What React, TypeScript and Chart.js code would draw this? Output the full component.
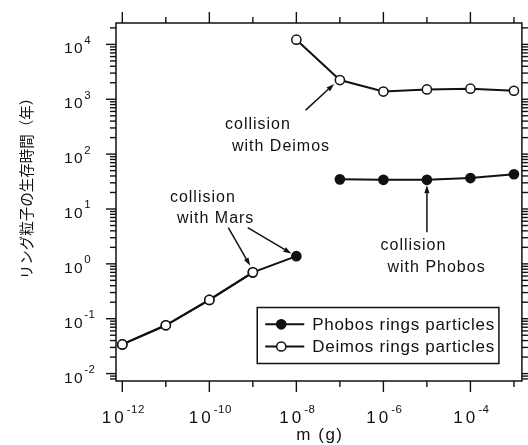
import React, { useEffect, useRef } from "react";
import { Chart, registerables } from "chart.js";

Chart.register(...registerables);

// ---- data (mass in g, lifetime in years) ----
const phobosMarsMass = [1e-12, 1e-11, 1e-10, 1e-9, 1e-8];
const phobosMarsLife = [0.034, 0.076, 0.22, 0.7, 1.38];
const phobosMass = [1e-7, 1e-6, 1e-5, 1e-4, 1e-3];
const phobosLife = [34.7, 34, 34, 36.6, 43];

const deimosMarsMass = [1e-12, 1e-11, 1e-10, 1e-9];
const deimosMarsLife = [0.034, 0.076, 0.22, 0.7];
const deimosMass = [1e-8, 1e-7, 1e-6, 1e-5, 1e-4, 1e-3];
const deimosLife = [12200, 2240, 1380, 1510, 1560, 1430];

const xTickExps = [-12, -11, -10, -9, -8, -7, -6, -5, -4, -3];
const xLabelExps = [-12, -10, -8, -6, -4];
const yLabelExps = [-2, -1, 0, 1, 2, 3, 4];

const xTitle = "m (g)";
const yTitle = "リング粒子の生存時間（年）";
const legendLabels = ["Phobos rings particles", "Deimos rings particles"];

// annotations in data coordinates (log10 mass, log10 lifetime)
const notes = [
  { lines: ["collision", "with Deimos"], x: -9.64, y: 2.456, x2: -9.48, y2: 2.054 },
  { lines: ["collision", "with Mars"], x: -10.906, y: 1.133, x2: -10.745, y2: 0.747 },
  { lines: ["collision", "with Phobos"], x: -6.067, y: 0.249, x2: -5.906, y2: -0.147 },
];
const arrows = [
  { from: [-7.787, 2.802], to: [-7.13, 3.28] },
  { from: [-9.564, 0.659], to: [-9.06, -0.034] },
  { from: [-9.117, 0.659], to: [-8.115, 0.188] },
  { from: [-5.0, 0.577], to: [-5.0, 1.434] },
];

const INK = "#111";
const SANS = '"Liberation Sans", Arial, sans-serif';

const toXY = (xs: number[], ys: number[]) => xs.map((x, i) => ({ x, y: ys[i] }));

function drawPow(ctx: CanvasRenderingContext2D, x: number, yBase: number, exp: number,
  align: "center" | "left", baseFont: string, supFont: string, ls: number, supLs: number, raise: number) {
  ctx.save();
  ctx.textAlign = "left";
  ctx.textBaseline = "alphabetic";
  ctx.font = baseFont;
  (ctx as any).letterSpacing = ls + "px";
  const w1 = ctx.measureText("10").width;
  ctx.font = supFont;
  (ctx as any).letterSpacing = supLs + "px";
  const es = String(exp);
  const w2 = ctx.measureText(es).width;
  const start = align === "center" ? x - (w1 + w2) / 2 : x;
  ctx.font = baseFont;
  (ctx as any).letterSpacing = ls + "px";
  ctx.fillText("10", start, yBase);
  ctx.font = supFont;
  (ctx as any).letterSpacing = supLs + "px";
  ctx.fillText(es, start + w1, yBase - raise);
  ctx.restore();
}

function line(ctx: CanvasRenderingContext2D, x1: number, y1: number, x2: number, y2: number) {
  ctx.beginPath();
  ctx.moveTo(x1, y1);
  ctx.lineTo(x2, y2);
  ctx.stroke();
}

const decorPlugin = {
  id: "decor",
  beforeDraw(chart: any) {
    const ctx = chart.ctx;
    ctx.save();
    ctx.fillStyle = "#fff";
    ctx.fillRect(0, 0, chart.width, chart.height);
    ctx.restore();
  },
  beforeDatasetsDraw(chart: any) {
    const ctx: CanvasRenderingContext2D = chart.ctx;
    const xs = chart.scales.x;
    const ys = chart.scales.y;
    const { left, right, top, bottom } = chart.chartArea;
    ctx.save();
    ctx.strokeStyle = INK;
    ctx.lineWidth = 1.5;
    ctx.strokeRect(left, top, right - left, bottom - top);
    ctx.lineWidth = 1.4;
    // x ticks top & bottom
    for (const e of xTickExps) {
      const px = xs.getPixelForValue(Math.pow(10, e));
      const len = e % 2 === 0 ? 11 : 6;
      line(ctx, px, top, px, top - len);
      line(ctx, px, bottom, px, bottom + len);
    }
    // y ticks left & right
    const lo = Math.floor(Math.log10(ys.min));
    const hi = Math.ceil(Math.log10(ys.max));
    for (let e = lo; e <= hi; e++) {
      for (let m = 1; m <= 9; m++) {
        const v = m * Math.pow(10, e);
        if (v < ys.min || v > ys.max) continue;
        const py = ys.getPixelForValue(v);
        const len = m === 1 ? 10 : 6;
        line(ctx, left - len, py, left, py);
        line(ctx, right, py, right + len, py);
      }
    }
    // tick labels
    ctx.fillStyle = INK;
    for (const e of xLabelExps) {
      const px = xs.getPixelForValue(Math.pow(10, e));
      drawPow(ctx, px + 1, bottom + 42, e, "center", "17px " + SANS, "11.5px " + SANS, 3, 0.5, 10);
    }
    for (const e of yLabelExps) {
      const py = ys.getPixelForValue(Math.pow(10, e));
      drawPow(ctx, left - 52, py + 9, e, "left", "15.5px " + SANS, "11.5px " + SANS, 1.5, 0.5, 9.5);
    }
    // titles
    ctx.font = "17px " + SANS;
    (ctx as any).letterSpacing = "1.5px";
    ctx.textAlign = "center";
    ctx.textBaseline = "middle";
    ctx.fillText(xTitle, (left + right) / 2 + 1, bottom + 54);
    (ctx as any).letterSpacing = "0px";
    ctx.save();
    ctx.translate(26, 185);
    ctx.rotate(-Math.PI / 2);
    ctx.font = '14.5px "Noto Sans CJK JP", sans-serif';
    ctx.fillText(yTitle, 0, 0);
    ctx.restore();
    ctx.restore();
  },
  afterDatasetsDraw(chart: any) {
    const ctx: CanvasRenderingContext2D = chart.ctx;
    const xs = chart.scales.x;
    const ys = chart.scales.y;
    const X = (lx: number) => xs.getPixelForValue(Math.pow(10, lx));
    const Y = (ly: number) => ys.getPixelForValue(Math.pow(10, ly));
    const { right, bottom } = chart.chartArea;
    ctx.save();
    ctx.fillStyle = INK;
    ctx.strokeStyle = INK;
    // annotation texts
    ctx.font = "16px " + SANS;
    (ctx as any).letterSpacing = "1px";
    ctx.textAlign = "left";
    ctx.textBaseline = "alphabetic";
    for (const n of notes) {
      ctx.fillText(n.lines[0], X(n.x), Y(n.y));
      ctx.fillText(n.lines[1], X(n.x2), Y(n.y2));
    }
    // arrows
    ctx.lineWidth = 1.5;
    for (const a of arrows) {
      const x1 = X(a.from[0]), y1 = Y(a.from[1]);
      const x2 = X(a.to[0]), y2 = Y(a.to[1]);
      const ang = Math.atan2(y2 - y1, x2 - x1);
      const hl = 8, hw = 2.6;
      const bx = x2 - hl * Math.cos(ang), by = y2 - hl * Math.sin(ang);
      line(ctx, x1, y1, bx, by);
      ctx.beginPath();
      ctx.moveTo(x2, y2);
      ctx.lineTo(bx + hw * Math.sin(ang), by - hw * Math.cos(ang));
      ctx.lineTo(bx - hw * Math.sin(ang), by + hw * Math.cos(ang));
      ctx.closePath();
      ctx.fill();
    }
    // legend
    ctx.font = "17px " + SANS;
    (ctx as any).letterSpacing = "0.7px";
    const tw = Math.max(...legendLabels.map((l) => ctx.measureText(l).width));
    const bw = 55 + tw + 4;
    const bh = 56;
    const bx0 = right - 23 - bw;
    const by0 = bottom - 17.5 - bh;
    ctx.lineWidth = 1.5;
    ctx.fillStyle = "#fff";
    ctx.fillRect(bx0, by0, bw, bh);
    ctx.strokeRect(bx0, by0, bw, bh);
    const rows = [by0 + 16.8, by0 + 39];
    legendLabels.forEach((lab, i) => {
      const cy = rows[i];
      ctx.lineWidth = 2;
      line(ctx, bx0 + 8, cy, bx0 + 47, cy);
      ctx.beginPath();
      ctx.arc(bx0 + 24, cy, 4.6, 0, Math.PI * 2);
      ctx.fillStyle = i === 0 ? INK : "#fff";
      ctx.fill();
      ctx.lineWidth = 1.5;
      ctx.stroke();
      ctx.fillStyle = INK;
      ctx.textBaseline = "middle";
      ctx.fillText(lab, bx0 + 55, cy + 1);
    });
    ctx.restore();
  },
};

export default function App() {
  const ref = useRef<HTMLCanvasElement | null>(null);
  useEffect(() => {
    document.body.style.margin = "0";
    const canvas = ref.current;
    if (!canvas) return;
    const common = {
      borderColor: INK,
      borderWidth: 2,
      pointRadius: 4.6,
      pointBorderWidth: 1.5,
      pointBorderColor: INK,
      tension: 0,
      clip: false as any,
    };
    const chart = new Chart(canvas, {
      type: "line",
      data: {
        datasets: [
          { ...common, label: legendLabels[0], data: toXY(phobosMarsMass, phobosMarsLife), pointBackgroundColor: INK, order: 2 },
          { ...common, label: legendLabels[0], data: toXY(phobosMass, phobosLife), pointBackgroundColor: INK, order: 2 },
          { ...common, label: legendLabels[1], data: toXY(deimosMarsMass, deimosMarsLife), pointBackgroundColor: "#fff", order: 1 },
          { ...common, label: legendLabels[1], data: toXY(deimosMass, deimosLife), pointBackgroundColor: "#fff", order: 1 },
        ] as any,
      },
      options: {
        animation: false,
        responsive: false,
        devicePixelRatio: 1,
        layout: { padding: { left: 116, top: 23, right: 5, bottom: 64 } },
        plugins: { legend: { display: false }, tooltip: { enabled: false } },
        scales: {
          x: { type: "logarithmic", min: Math.pow(10, -12.145), max: Math.pow(10, -2.817), display: false, bounds: "data" },
          y: { type: "logarithmic", min: Math.pow(10, -2.135), max: Math.pow(10, 4.39), display: false, bounds: "data" },
        },
      } as any,
      plugins: [decorPlugin],
    });
    return () => chart.destroy();
  }, []);
  return (
    <div style={{ position: "absolute", left: 0, top: 0, width: 528, height: 445 }}>
      <canvas ref={ref} width={528} height={445} style={{ display: "block", width: 528, height: 445 }} />
    </div>
  );
}
